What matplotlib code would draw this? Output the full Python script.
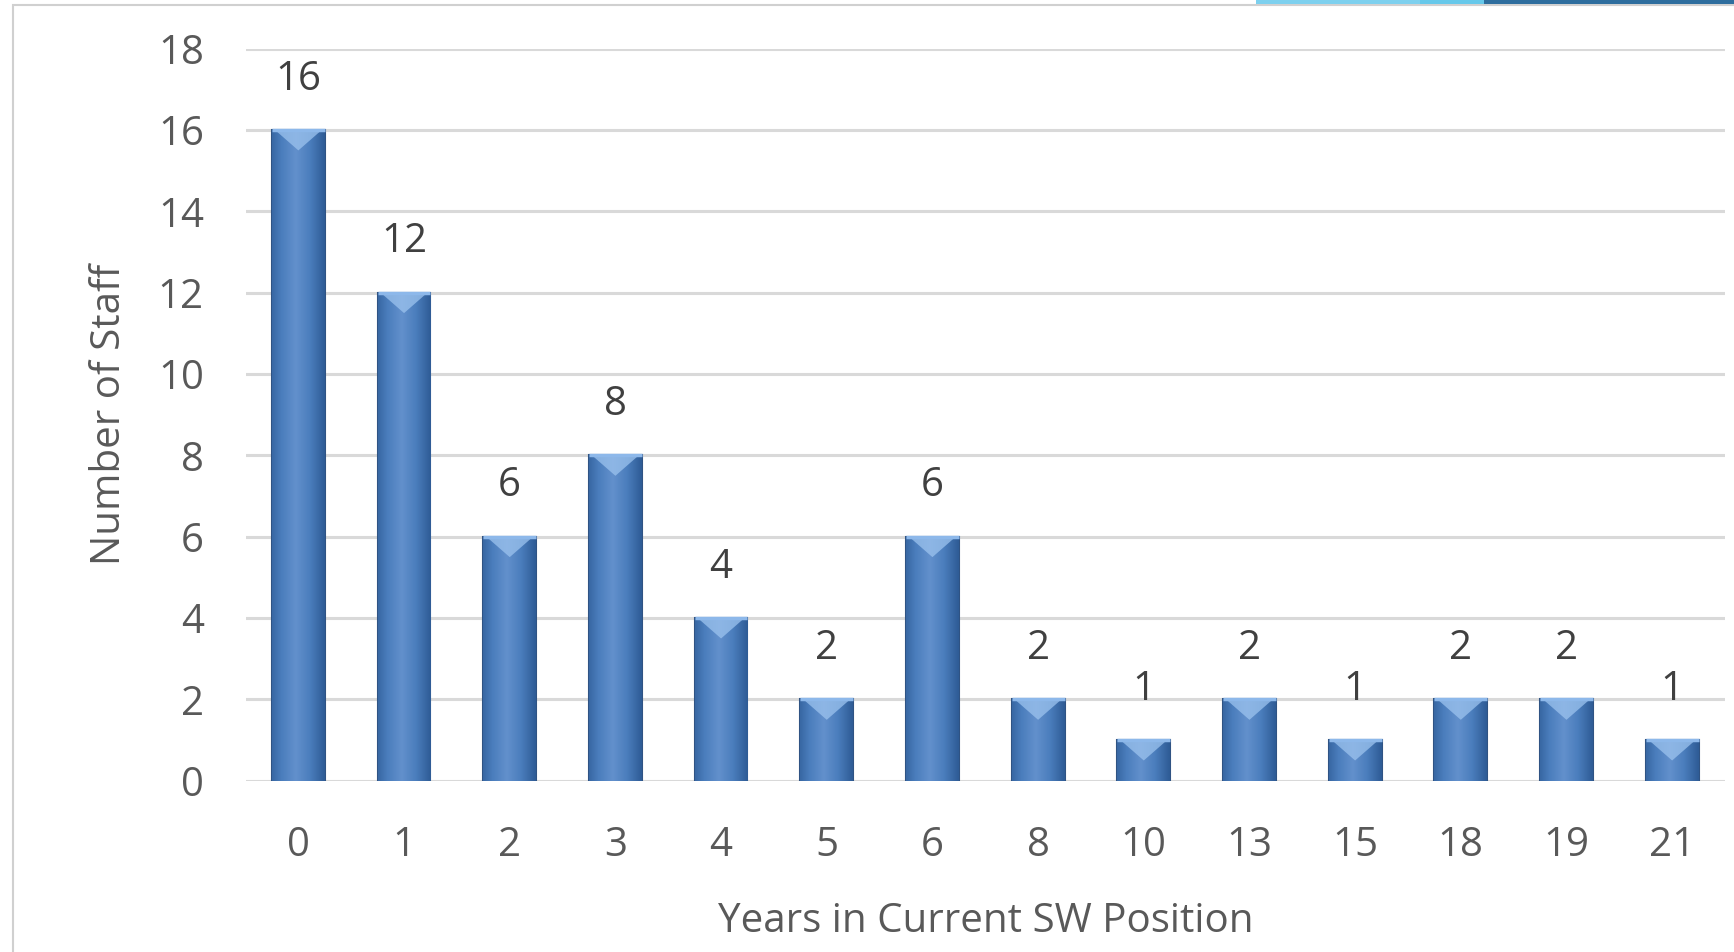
import matplotlib.pyplot as plt
import matplotlib.patches as mpatches
import numpy as np

# data
years = ['0', '1', '2', '3', '4', '5', '6', '8', '10', '13', '15', '18', '19', '21']
staff = [16, 12, 6, 8, 4, 2, 6, 2, 1, 2, 1, 2, 2, 1]
yticks = [0, 2, 4, 6, 8, 10, 12, 14, 16, 18]

plt.rcParams['font.family'] = ['Open Sans', 'DejaVu Sans']

fig = plt.figure(figsize=(17.34, 9.52), dpi=100)
ax = fig.add_axes([0.1416, 0.1798, 0.8532, 0.769])

x = np.arange(len(years))
width = 0.5

# bars with a simple horizontal gradient and a bevel highlight on top
bars = ax.bar(x, staff, width=width, color='#4F81BD', edgecolor='#2F5383',
              linewidth=1.5, zorder=3)
grad = np.linspace(0, 1, 64)
grad = 1 - np.abs(grad - 0.45) * 1.2
grad = np.vstack([grad, grad])
cmap = plt.cm.colors.LinearSegmentedColormap.from_list(
    'bev', ['#2F5C96', '#4A7DBC', '#6290CC'])
for b in bars:
    x0, w, h = b.get_x(), b.get_width(), b.get_height()
    im = ax.imshow(grad, extent=(x0, x0 + w, 0, h), aspect='auto',
                   cmap=cmap, zorder=3.5)
    im.set_clip_path(b)
    tri = mpatches.Polygon([(x0 + 0.03, h), (x0 + w - 0.03, h), (x0 + w / 2, h - 0.5)],
                           closed=True, facecolor='#9CC3EE', alpha=0.75,
                           edgecolor='none', zorder=4)
    ax.add_patch(tri)
    ax.plot([x0, x0 + w], [h, h], color='#8DB8EA', lw=2.5, zorder=4.5,
            solid_capstyle='butt')
    ax.annotate(str(int(h)), (x0 + w / 2, h), xytext=(0, 22),
                textcoords='offset points', ha='center', va='bottom',
                fontsize=29, color='#404040')

ax.set_xlim(-0.5, len(years) - 0.5)
ax.set_ylim(0, 18)
ax.set_yticks(yticks)
ax.set_xticks(x)
ax.set_xticklabels(years)
ax.tick_params(axis='both', length=0, labelsize=29, labelcolor='#595959')
ax.tick_params(axis='y', pad=30)
ax.tick_params(axis='x', pad=32)
ax.yaxis.grid(True, color='#D9D9D9', linewidth=2.2, zorder=0)
ax.set_axisbelow(True)
for s in ax.spines.values():
    s.set_visible(False)

ax.set_xlabel('Years in Current SW Position', fontsize=29, color='#595959',
              labelpad=26)
ax.set_ylabel('Number of Staff', fontsize=29, color='#595959', labelpad=20)

# outer chart frame
fig.add_artist(mpatches.Rectangle((13 / 1734, -0.01), 1.0, 1 - 5 / 952 + 0.01,
                                  transform=fig.transFigure, fill=False,
                                  edgecolor='#D0D0D0', linewidth=1.5))
# strip of the neighbouring slide visible at the top right
for x0, x1, c in [(1256, 1420, '#7DD0EE'), (1420, 1484, '#66C8EA'),
                  (1484, 1734, '#2E6E9E')]:
    fig.add_artist(mpatches.Rectangle((x0 / 1734, 1 - 4 / 952), (x1 - x0) / 1734,
                                      4 / 952, transform=fig.transFigure,
                                      facecolor=c, edgecolor='none'))

fig.savefig('out.png', dpi=100)
